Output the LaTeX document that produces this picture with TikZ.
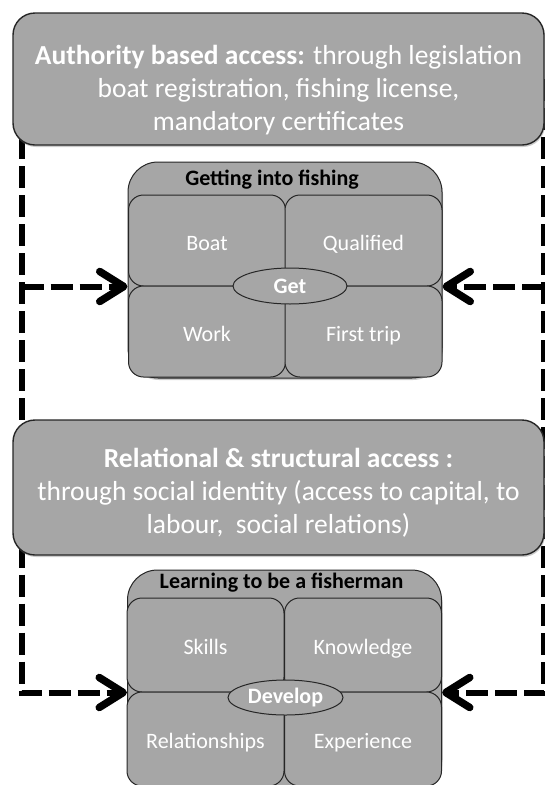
\documentclass[tikz,border=0pt]{standalone}
\usepackage{fontspec}
\setmainfont{Carlito}
\usetikzlibrary{arrows.meta}
\usetikzlibrary{shapes.geometric,shadows,backgrounds}
\definecolor{boxgray}{HTML}{A6A6A6}

\begin{document}
\begin{tikzpicture}[x=1pt,y=-1pt]
  \tikzset{bigbox/.style = {draw=black!85,line width=1.4pt,fill=boxgray,rounded corners=22pt,text=white,
      minimum width=531pt,align=center,font=\fontsize{27.5}{33}\selectfont,
      drop shadow={shadow xshift=1pt,shadow yshift=-2pt,opacity=.4}}}
  \tikzset{grpbox/.style = {draw=black!85,line width=1pt,fill=boxgray,rounded corners=30pt,minimum width=314pt,
      drop shadow={shadow xshift=1pt,shadow yshift=-2pt,opacity=.4}}}
  \tikzset{quad/.style = {draw=black!85,line width=1pt,fill=boxgray,rounded corners=15pt,text=white,
      minimum width=157pt,minimum height=91pt,inner sep=1pt,text height=20pt,text depth=1pt,
      font=\fontsize{22}{26}\selectfont}}
  \tikzset{hub/.style = {shape=ellipse,draw=black!85,line width=1pt,fill=boxgray,text=white,inner sep=0pt,
      minimum width=114pt,minimum height=36pt,font=\bfseries\fontsize{22}{26}\selectfont}}
  \tikzset{grptitle/.style = {inner sep=0pt,font=\bfseries\fontsize{22}{26}\selectfont}}
  \tikzset{dashline/.style = {line width=6pt,dash pattern=on 22pt off 7pt}}
  \tikzset{dasharrow/.style = {dashline,-{Straight Barb[length=24pt,width=30pt,round,line width=7.5pt]}}}

  \clip (0,0) rectangle (545,785);

  % access boxes
  \node[bigbox,minimum height=132pt] (authbox) at (278.5,79)
    {\rule{0pt}{42pt}\textbf{Authority based access:} through legislation\\boat registration, fishing license,\\mandatory certificates};
  \node[bigbox,minimum height=135pt] (relbox) at (278.5,487.5)
    {\rule{0pt}{30pt}\textbf{Relational \& structural access :}\\through social identity (access to capital, to\\labour,\ \ social relations)};

  % getting into fishing
  \node[grpbox,minimum height=216pt] (getgrp) at (285,270) {};
  \node[grptitle] (gettitle) at (272,180) {Getting into fishing};
  \node[quad] (boat) at (207,240.5) {Boat};
  \node[quad] (qualified) at (363.5,240.5) {Qualified};
  \node[quad] (work) at (207,331.5) {Work};
  \node[quad] (firsttrip) at (363.5,331.5) {First trip};
  \node[hub] (getell) at (290,286) {Get};

  % learning to be a fisherman
  \node[grpbox,minimum height=220pt] (devgrp) at (284.5,680) {};
  \node[grptitle] (devtitle) at (281.5,583) {Learning to be a fisherman};
  \node[quad,minimum height=94pt] (skills) at (205.5,645) {Skills};
  \node[quad,minimum height=94pt] (knowledge) at (363,645) {Knowledge};
  \node[quad,minimum height=94pt] (relations) at (205.5,739) {Relationships};
  \node[quad,minimum height=94pt] (experience) at (363,739) {Experience};
  \node[hub,minimum width=115pt,minimum height=35pt] (devell) at (285.5,697.5) {Develop};

  \coordinate (leftrail) at (21.5,0);
  \coordinate (rightrail) at (543.5,0);

  \begin{scope}[on background layer]
    \draw[dashline] (authbox -| leftrail) -- (relbox -| leftrail);
    \draw[dashline] (authbox -| rightrail) -- (relbox -| rightrail);
    \draw[dasharrow] (boat.south -| leftrail) -- (boat.south -| getgrp.west);
    \draw[dasharrow] (boat.south -| rightrail) -- (boat.south -| getgrp.east);
    \draw[dasharrow] (relbox -| leftrail) |- (skills.south -| devgrp.west);
    \draw[dasharrow] (relbox -| rightrail) |- (skills.south -| devgrp.east);
  \end{scope}
\end{tikzpicture}
\end{document}
